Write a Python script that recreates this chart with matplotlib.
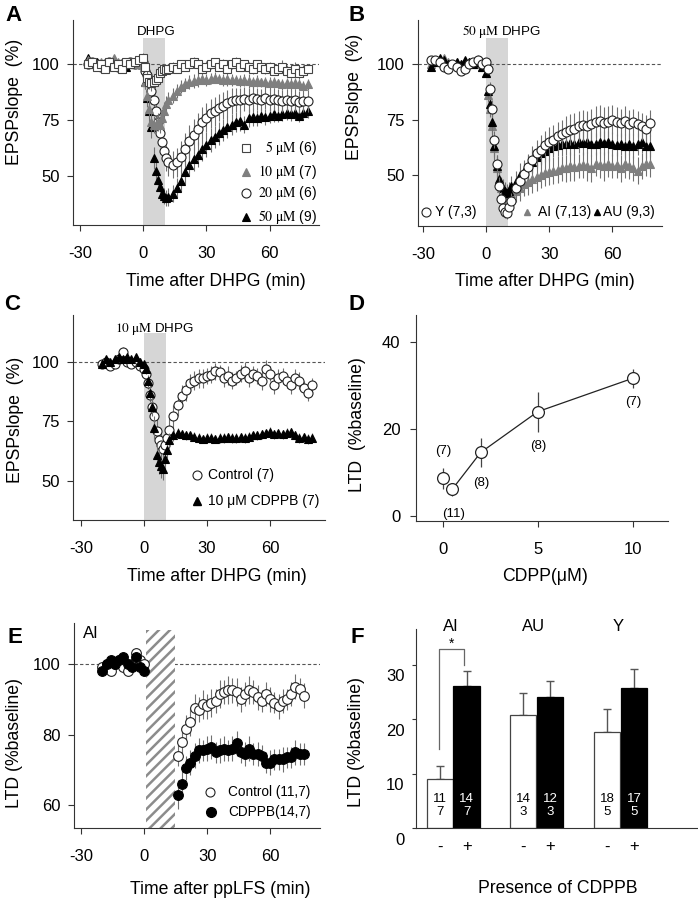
import numpy as np
import matplotlib
matplotlib.use('Agg')
import matplotlib.pyplot as plt
from matplotlib.patches import Rectangle
from matplotlib.transforms import ScaledTranslation

plt.rcParams['font.family'] = ['Liberation Sans', 'DejaVu Sans']
plt.rcParams['mathtext.fontset'] = 'stix'
plt.rcParams['axes.unicode_minus'] = False
plt.rcParams['hatch.color'] = '#8c8c8c'
plt.rcParams['hatch.linewidth'] = 1.8

# ---------------- data ----------------
# sampling times (min): 2-min bins in baseline / recovery, 1-min bins around the drug
t_A = np.concatenate([np.arange(-26, 1, 2), np.arange(1, 13), np.arange(14, 79, 2)])
t_C = np.concatenate([np.arange(-20, 1, 2), np.arange(1, 13), np.arange(14, 81, 2)])
t_E = np.concatenate([np.arange(-20, 1, 2), np.arange(16, 77, 2)])

# panel A: DHPG dose response
a_5uM = [100, 101, 99, 100, 98, 101, 99, 100, 98, 101, 100, 101, 102, 103,
         99, 94, 92, 91.5, 92, 93, 94, 96, 97, 98, 97.5, 98,
         99, 98, 100, 99, 100, 101, 100, 98, 99, 100, 101, 99, 100, 98, 100, 101, 99,
         100, 99, 98, 100, 99, 98, 99, 97, 98, 99, 97, 96, 98, 96, 97, 98]
a_5uM_err = [1.5, 1, 2, 1.5, 1, 2, 1.5, 1, 2, 1.5, 1, 1.5, 2, 2,
             2, 3, 3, 3.5, 3, 2.5, 2.5, 2, 2, 2, 2, 2,
             2, 2, 1.5, 2, 2, 2.5, 2, 2, 2.5, 2, 2, 2, 2.5, 2, 2, 2.5, 2,
             2, 2, 2.5, 2, 2, 2.5, 2, 2, 2.5, 3, 2.5, 2, 3, 2.5, 2.5, 2]
a_10uM = [102, 101, 100, 101, 100, 100, 103, 101, 100, 100, 101, 100, 101, 100,
          92, 86, 80, 74, 73, 73, 74, 73, 76, 79, 82, 84,
          86, 88, 90, 91, 92, 92.5, 93, 93.5, 93, 93.5, 94, 93.5, 93, 93.5, 93, 93, 92.5,
          93, 92.5, 92, 92.5, 92, 92, 91.5, 92, 91.5, 91, 91.5, 91, 91.5, 91, 90.5, 91]
a_10uM_err = [1, 1, 1.5, 1, 1, 1.5, 1, 1, 1.5, 1, 1, 1, 1, 1,
              3, 3, 4, 4, 4, 4, 4, 4, 4, 4, 4, 3.5,
              3.5, 3, 3, 3, 3, 3, 3, 2.5, 2.5, 2.5, 2.5, 2, 2.5, 3, 2.5, 2, 2.5,
              2.5, 3, 2.5, 2.5, 2, 2.5, 3, 2.5, 2, 2.5, 2.5, 3, 2.5, 2.5, 2, 2.5]
a_20uM = [100, 101, 100, 99, 100, 101, 100, 99, 100, 100, 101, 100, 100, 101,
          97, 95, 92, 88, 84, 79, 74, 69, 65, 61, 58, 56,
          55, 56, 58.5, 62, 65.5, 68.5, 71, 74, 76, 78, 79, 80.5, 81.5, 82.5, 83.5, 84, 84,
          84.5, 84, 85, 84.5, 84, 85, 84, 84.5, 84, 83.5, 84, 83.5, 84, 83, 83.5, 83.5]
a_20uM_err = [1, 1.5, 1, 1, 1.5, 1, 1, 1.5, 1, 1, 1.5, 1, 1, 1.5,
              3, 4, 5, 6, 6, 6.5, 6.5, 6, 6, 6, 6, 6,
              6, 6.5, 7, 7, 7.5, 7, 7, 7, 6.5, 6.5, 6.5, 6, 6, 6, 6, 5.5, 5.5,
              5.5, 5.5, 5.5, 5, 5, 5, 5, 5, 5, 5, 5, 5, 5, 5, 5, 5]
a_50uM = [103, 100, 101, 100, 99, 100, 101, 100, 100, 99, 100, 100, 101, 100,
          92, 85, 79, 72, 58, 52, 48, 45, 42, 41, 40, 40.5,
          42, 44.5, 47.5, 51.5, 55, 57.5, 59.5, 62, 64, 66, 67.5, 69, 70.5, 72, 73, 74, 74.5,
          73, 76, 76.5, 76, 77, 76.5, 77, 77.5, 77, 77.5, 78, 77.5, 78, 77, 78, 79]
a_50uM_err = [1, 1.5, 1, 1, 1.5, 1, 1, 1.5, 1, 1, 1.5, 1, 1, 1.5,
              3, 4, 5, 5, 5, 4, 4, 3.5, 3.5, 3.5, 3.5, 4,
              4, 4.5, 5, 5, 5, 5.5, 5.5, 5.5, 5.5, 5.5, 5, 5, 5, 5, 4.5, 4.5, 4.5,
              4, 4, 4, 3.5, 3.5, 3.5, 3.5, 3.5, 3, 3, 3, 3, 3, 3, 3, 3]
a_labels = ['5', '10', '20', '50']
a_n = [6, 7, 6, 9]

# panel B: 50 uM DHPG by age group
b_Y = [102, 102, 101, 99, 98, 100, 99, 97, 98, 100, 101, 102, 100, 101,
       98, 89, 80, 66, 55, 45, 39, 35, 33.5, 33, 35.5, 38.5,
       44, 47.5, 50.5, 53.5, 57, 60, 61.5, 63.5, 65, 66, 67.5, 68.5, 69.5, 70.5, 71, 72, 72.5,
       72, 73, 74, 74.5, 73.5, 74, 75, 74, 73.5, 74.5, 73, 74, 73, 72, 71, 73.5]
b_Y_err = [1.5, 1, 1.5, 2, 1.5, 1, 1.5, 2, 1.5, 1, 1.5, 2, 1.5, 1.5,
           2, 3, 4, 4, 4, 4, 3.5, 3.5, 3, 3, 3, 3.5,
           4, 4.5, 5, 5.5, 6, 6, 6.5, 6.5, 6.5, 6.5, 6.5, 6.5, 7, 7, 7, 7, 7,
           7, 7, 7, 7, 7, 7, 6.5, 6.5, 6.5, 6.5, 6.5, 6, 6, 6, 6, 6]
b_AI = [100, 101, 102, 103, 101, 100, 101, 100, 101, 101, 100, 100, 99, 96,
        86, 80, 72, 62, 53, 47, 44, 42, 41, 40, 41, 42,
        43, 44, 46, 47, 48, 49, 50, 51, 51.5, 52, 52.5, 53, 53, 54, 53.5, 54, 54.5,
        54, 53, 55, 54.5, 54, 55, 54, 54.5, 53, 55, 54, 53, 52, 54, 55, 55]
b_AI_err = [1, 1.5, 1, 1, 1.5, 1, 1, 1.5, 1, 1, 1.5, 1, 1, 1.5,
            3, 4, 5, 5, 5, 4.5, 4.5, 4.5, 4.5, 4.5, 4.5, 5,
            5, 5.5, 5.5, 6, 6, 6, 6, 6, 6, 6, 6, 5.5, 6, 6.5, 6, 5.5, 6,
            6.5, 6, 5.5, 6, 6.5, 6, 5.5, 6, 6, 6.5, 6, 5.5, 6, 6, 5.5, 6]
b_AU = [99, 101, 103, 102, 100, 100, 101, 100, 102, 101, 100, 101, 99, 96,
        88, 82, 74, 63, 54, 48, 45, 44, 43, 42, 43, 45,
        47, 50, 52, 54, 56, 58, 60, 61, 62, 63, 63.5, 64, 64, 64.5, 64, 65, 64.5,
        65, 64, 64, 65, 64.5, 65, 64, 63.5, 64, 63, 64, 63, 64, 65, 63, 63]
b_AU_err = [1, 1.5, 1, 1, 1.5, 1, 1, 1.5, 1, 1, 1.5, 1, 1, 1.5,
            3, 4, 5, 5, 5, 4.5, 4, 4, 4, 4, 4, 4.5,
            5, 5.5, 5, 5.5, 5, 5, 5.5, 5, 5.5, 5, 5, 5.5, 5, 5.5, 5, 5, 5.5,
            5, 5.5, 5, 5, 5.5, 5, 5.5, 5, 5, 5.5, 5, 5.5, 5, 5, 5.5, 5]

# panel C: 10 uM DHPG +/- CDPPB
c_ctrl = [99, 100, 98, 99, 101, 104, 100, 99, 100, 98, 97,
          95, 91, 86, 81, 77, 71, 67, 65, 63.5, 65, 68, 71.5,
          77, 82, 85.5, 88, 91, 92, 93, 93, 94, 94.5, 96, 95.5, 93, 94, 92, 93, 95,
          96, 93, 95, 94, 92, 97, 95, 90, 93, 94, 92, 90, 93, 92, 89, 87, 90]
c_ctrl_err = [1, 1.5, 1, 1.5, 1, 2, 1, 1.5, 1, 1.5, 1,
              2, 2.5, 3, 4, 5, 5, 5, 5, 5, 5, 5, 5,
              5, 5, 4.5, 4.5, 4, 4, 4, 4, 3.5, 3.5, 3.5, 3, 3.5, 4, 3.5, 3, 3.5,
              4, 3.5, 3, 3.5, 4, 3.5, 3, 3.5, 4, 3.5, 3, 3.5, 4, 3.5, 3, 3.5, 3]
c_cdppb = [99, 101, 100, 101, 102, 101, 102, 101, 102, 100, 99,
           97, 92, 87, 81, 72, 61, 58, 56, 55, 59, 63, 67,
           69, 70, 69.5, 69, 69, 68.5, 68, 67.5, 68, 68, 67.5, 68, 68, 68.5, 68, 68, 68.5,
           68, 68.5, 69, 69, 69.5, 70, 70.5, 69.5, 70, 69.5, 70, 70.5, 69, 68, 68.5, 67.5, 68]
c_cdppb_err = [1, 1.5, 1, 1.5, 1, 1.5, 1, 1.5, 1, 1.5, 1,
               2, 2.5, 3, 4, 5, 5, 5, 5, 4.5, 4, 3.5, 3,
               2.5, 2, 2, 2, 1.5, 2, 2, 1.5, 2, 2, 1.5, 2, 2, 1.5, 2, 2, 1.5,
               2, 2, 1.5, 2, 2, 1.5, 2, 2, 1.5, 2, 2, 1.5, 2, 2, 1.5, 2, 2]

# panel D: CDPPB concentration vs LTD
d_conc = [0, 0.5, 2, 5, 10]
d_ltd = [8.6, 6.1, 14.6, 24.0, 31.7]
d_err = [2.5, 1.5, 3.3, 4.6, 2.2]
d_n = ['(7)', '(11)', '(8)', '(8)', '(7)']
d_label_y = [14.9, 0.4, 7.6, 16.1, 26.3]

# panel E: ppLFS in AI
e_ctrl = [99, 100, 98, 100, 101, 99, 98, 100, 103, 101, 100,
          74, 78, 81.5, 83.5, 87.5, 87, 88.5, 88, 89, 89.5, 91.5, 92, 92.5, 92.5, 92, 90,
          91.5, 92.5, 92, 90.5, 89.5, 91.5, 90, 89, 88, 89.5, 90, 91.5, 93.5, 93, 91]
e_ctrl_err = [1.5, 1, 1.5, 1.5, 1, 1.5, 1.5, 1, 1.5, 1.5, 1,
              3, 4, 4, 4, 4, 3.5, 4, 3.5, 4, 3.5, 4, 3.5, 4, 3.5, 4, 3.5,
              3.5, 4, 3.5, 3.5, 3, 3.5, 3.5, 3, 3.5, 3.5, 3, 3.5, 3.5, 3, 3.5]
e_cdppb = [98, 100, 101, 100, 101, 102, 100, 99, 102, 99, 98,
           63, 66, 70.5, 72, 74, 75.5, 75.5, 76, 76.5, 75, 75.5, 76, 75.5, 76, 77.5, 75,
           74.5, 76, 74.5, 74.5, 74, 72, 72, 73, 73, 73, 73.5, 73.5, 75, 74.5, 74.5]
e_cdppb_err = [1.5, 1, 1.5, 1.5, 1, 1.5, 1.5, 1, 1.5, 1.5, 1,
               4, 4, 3.5, 3.5, 3.5, 3.5, 3, 3.5, 3.5, 3, 3.5, 3.5, 3, 3.5, 3.5, 3,
               3.5, 3.5, 3, 3.5, 3, 3, 3.5, 3, 3, 3.5, 3, 3, 3.5, 3, 3]

# panel F: LTD with / without CDPPB per group
f_groups = ['AI', 'AU', 'Y']
f_minus = [9.0, 20.8, 17.7]
f_minus_err = [2.5, 4.0, 4.2]
f_plus = [26.1, 24.0, 25.8]
f_plus_err = [2.8, 3.1, 3.5]
f_minus_n = ['11\n7', '14\n3', '18\n5']
f_plus_n = ['14\n7', '12\n3', '17\n5']

# ---------------- figure ----------------
W, H = 698, 900
fig = plt.figure(figsize=(W / 100, H / 100), dpi=100)

SP = '#333333'
EC = '#707070'
GREY = '#7f7f7f'


def px_axes(l, t, r, b):
    return fig.add_axes([l / W, 1 - b / H, (r - l) / W, (b - t) / H])


def style(ax, xlim, ylim, xticks, yticks, ypad=5.5):
    ax.set_xlim(*xlim)
    ax.set_ylim(*ylim)
    for s in ['top', 'right']:
        ax.spines[s].set_visible(False)
    for s in ['left', 'bottom']:
        ax.spines[s].set_color(SP)
        ax.spines[s].set_linewidth(0.8)
    ax.set_xticks(xticks)
    ax.set_yticks(yticks)
    ax.tick_params(axis='x', direction='out', length=4, width=0.8, color=SP,
                   labelsize=12, pad=11)
    ax.tick_params(axis='y', direction='out', length=4, width=0.8, color=SP,
                   labelsize=12, pad=ypad)


def series(ax, t, v, e, marker, face, edge, ms, z):
    ax.errorbar(t, v, yerr=e, fmt='none', ecolor=EC, elinewidth=0.8, zorder=z)
    ax.plot(t, v, linestyle='none', marker=marker, markerfacecolor=face,
            markeredgecolor=edge, markeredgewidth=0.8, markersize=ms, zorder=z + 0.5)


def baseline(ax):
    ax.axhline(100, color='#555555', linestyle=(0, (3, 2)), linewidth=0.8, zorder=1)


def labels(ax, xl, xpos, yl, ypos):
    ax.text(xpos[0], xpos[1], xl, transform=ax.transAxes, ha='center', va='center', fontsize=12.7)
    ax.text(ypos[0], ypos[1], yl, transform=ax.transAxes, ha='center', va='center',
            rotation=90, fontsize=12.7)


# ---- A ----
axA = px_axes(73, 20, 319, 225)
style(axA, (-33.2, 83.4), (27.9, 119.9), [-30, 0, 30, 60], [50, 75, 100])
axA.add_patch(Rectangle((0, 27.9), 10.5, 111.7 - 27.9, color='#d6d6d6', lw=0, zorder=0.5))
baseline(axA)
series(axA, t_A, a_50uM, a_50uM_err, '^', 'black', 'black', 5.5, 2)
series(axA, t_A, a_20uM, a_20uM_err, 'o', 'white', '#222222', 6.5, 3)
series(axA, t_A, a_10uM, a_10uM_err, '^', GREY, GREY, 5.5, 4)
series(axA, t_A, a_5uM, a_5uM_err, 's', 'white', '#444444', 6, 5)
axA.text(6.2, 114.6, 'DHPG', ha='center', va='center', fontsize=9.6)
leg_y = [62.3, 51.8, 42.1, 31.6]
leg_style = [('s', 'white', '#444444', 6), ('^', GREY, GREY, 5.5),
             ('o', 'white', '#222222', 6.5), ('^', 'black', 'black', 5.5)]
for lab, n, yy, (m, fc, ec, ms) in zip(a_labels, a_n, leg_y, leg_style):
    axA.plot([48.8], [yy], marker=m, markerfacecolor=fc, markeredgecolor=ec,
             markeredgewidth=0.8, markersize=ms, linestyle='none', zorder=6)
    axA.text(82.3, yy, r'$\mathrm{%s\ μM}$ (%d)' % (lab, n), ha='right', va='center', fontsize=10)
labels(axA, 'Time after DHPG (min)', (0.58, -0.278), 'EPSPslope  (%)', (-0.236, 0.6))

# ---- B ----
axB = px_axes(418, 20, 661.7, 226)
style(axB, (-32.3, 83.4), (27.0, 120.0), [-30, 0, 30, 60], [50, 75, 100])
axB.add_patch(Rectangle((0, 27.0), 10.5, 111.7 - 27.0, color='#d6d6d6', lw=0, zorder=0.5))
baseline(axB)
series(axB, t_A, b_AI, b_AI_err, '^', GREY, GREY, 5.5, 2)
series(axB, t_A, b_AU, b_AU_err, '^', 'black', 'black', 5.5, 3)
series(axB, t_A, b_Y, b_Y_err, 'o', 'white', '#222222', 6.5, 4)
axB.text(7.4, 114.7, r'$\mathrm{50\ μM}$ DHPG', ha='center', va='center', fontsize=9.6)
axB.plot([-28.6], [33.4], marker='o', markerfacecolor='white', markeredgecolor='#222222',
         markeredgewidth=0.8, markersize=6.5, zorder=6)
axB.text(-24.4, 33.4, 'Y (7,3)', ha='left', va='center', fontsize=10)
axB.plot([19.6], [33.4], marker='^', color=GREY, markersize=5, zorder=6)
axB.text(24.6, 33.4, 'AI (7,13)', ha='left', va='center', fontsize=10)
axB.plot([52.5], [33.4], marker='^', color='black', markersize=5, zorder=6)
axB.text(55.6, 33.4, 'AU (9,3)', ha='left', va='center', fontsize=10)
labels(axB, 'Time after DHPG (min)', (0.521, -0.27), 'EPSPslope  (%)', (-0.259, 0.628))

# ---- C ----
axC = px_axes(73, 315, 325, 520)
style(axC, (-33.8, 86.2), (33.5, 119.6), [-30, 0, 30, 60], [50, 75, 100])
axC.add_patch(Rectangle((0, 33.5), 10.5, 111.9 - 33.5, color='#d6d6d6', lw=0, zorder=0.5))
baseline(axC)
series(axC, t_C, c_ctrl, c_ctrl_err, 'o', 'white', '#222222', 6.5, 2)
series(axC, t_C, c_cdppb, c_cdppb_err, '^', 'black', 'black', 5.5, 3)
axC.text(5.2, 113.6, r'$\mathrm{10\ μM}$ DHPG', ha='center', va='center', fontsize=9.6)
axC.plot([25.1], [52.4], marker='o', markerfacecolor='white', markeredgecolor='#222222',
         markeredgewidth=0.8, markersize=6.5, zorder=6)
axC.text(30.6, 52.4, 'Control (7)', ha='left', va='center', fontsize=10)
axC.plot([25.1], [41.6], marker='^', color='black', markersize=5.5, zorder=6)
axC.text(30.6, 41.6, '10 μM CDPPB (7)', ha='left', va='center', fontsize=10)
labels(axC, 'Time after DHPG (min)', (0.57, -0.277), 'EPSPslope  (%)', (-0.23, 0.488))

# ---- D ----
axD = px_axes(415.7, 315, 668, 521)
style(axD, (-1.42, 11.86), (-1.2, 46.3), [0, 5, 10], [0, 20, 40], ypad=7)
axD.errorbar(d_conc, d_ltd, yerr=d_err, fmt='none', ecolor='#444444', elinewidth=0.9, zorder=2)
axD.plot(d_conc[1:], d_ltd[1:], color='#222222', linewidth=0.9, zorder=2)
axD.plot(d_conc, d_ltd, linestyle='none', marker='o', markerfacecolor='white',
         markeredgecolor='#222222', markeredgewidth=0.9, markersize=8.5, zorder=3)
for xx, yy, s in zip(d_conc, d_label_y, d_n):
    axD.text(xx + (0.06 if s == '(11)' else 0.03), yy, s, ha='center', va='center', fontsize=9.5)
labels(axD, 'CDPP(μM)', (0.512, -0.27), 'LTD  (%baseline)', (-0.231, 0.466))

# ---- E ----
axE = px_axes(74, 623.3, 320, 827.7)
style(axE, (-33.5, 83.7), (53.6, 111.5), [-30, 0, 30, 60], [60, 80, 100])
baseline(axE)
axE.add_patch(Rectangle((1, 53.6), 13.5, 109.5 - 53.6, facecolor='white', edgecolor='#8c8c8c',
                        hatch='///', lw=0, zorder=1.5))
series(axE, t_E, e_ctrl, e_ctrl_err, 'o', 'white', '#222222', 7, 2)
series(axE, t_E, e_cdppb, e_cdppb_err, 'o', 'black', 'black', 7, 3)
axE.text(-29, 108.7, 'AI', ha='left', va='center', fontsize=12)
axE.plot([31.3], [63.8], marker='o', markerfacecolor='white', markeredgecolor='#222222',
         markeredgewidth=0.8, markersize=6.5, zorder=6)
axE.text(40, 63.8, 'Control (11,7)', ha='left', va='center', fontsize=9.8)
axE.plot([31.6], [58.1], marker='o', color='black', markersize=7, zorder=6)
axE.text(40, 58.1, 'CDPPB(14,7)', ha='left', va='center', fontsize=9.8)
labels(axE, 'Time after ppLFS (min)', (0.593, -0.304), 'LTD (%baseline)', (-0.24, 0.412))

# ---- F ----
axF = px_axes(415.7, 629.3, 696.7, 828.3)
group_pos = np.array([0, 3.12, 6.27])
x_minus = group_pos - 0.5
x_plus = group_pos + 0.5
style(axF, (-1.41, 9.12), (0, 36.5), list(np.ravel(np.column_stack([x_minus, x_plus]))),
      [0, 10, 20, 30], ypad=5)
axF.set_xticklabels(['-', '+'] * 3)
axF.tick_params(axis='x', length=0, pad=8, labelsize=12)
axF.tick_params(axis='y', length=3)
for lab in axF.get_yticklabels():
    lab.set_transform(lab.get_transform() + ScaledTranslation(0, -7.5 / 72, fig.dpi_scale_trans))
axF.bar(x_minus, f_minus, width=0.96, color='white', edgecolor='#444444', linewidth=0.9, zorder=2)
axF.bar(x_plus, f_plus, width=1.0, color='black', edgecolor='black', linewidth=0.9, zorder=2)
axF.errorbar(x_minus, f_minus, yerr=[np.zeros(3), f_minus_err], fmt='none', ecolor='#555555',
             elinewidth=1, capsize=3, capthick=1, zorder=1)
axF.errorbar(x_plus, f_plus, yerr=[np.zeros(3), f_plus_err], fmt='none', ecolor='#555555',
             elinewidth=1, capsize=3, capthick=1, zorder=1)
for xx, s in zip(x_minus, f_minus_n):
    axF.text(xx, 4.2, s, ha='center', va='center', fontsize=9.5, color='black',
             linespacing=1.05, zorder=3)
for xx, s in zip(x_plus, f_plus_n):
    axF.text(xx, 4.2, s, ha='center', va='center', fontsize=9.5, color='white',
             linespacing=1.05, zorder=3)
for g, s in zip(group_pos, f_groups):
    axF.text(g - 0.1, 37.0, s, ha='center', va='center', fontsize=12)
axF.plot([-0.54, -0.54, 0.41, 0.41], [14.5, 32.8, 32.8, 30.0], color='#666666', linewidth=0.9)
axF.text(-0.06, 32.6, '*', ha='center', va='bottom', fontsize=10)
labels(axF, 'Presence of CDPPB', (0.507, -0.302), 'LTD (%baseline)', (-0.21, 0.435))

# panel letters
for s, (x, y) in zip('ABCDEF', [(13, 15.5), (357, 15.5), (12.5, 304.5),
                                 (357, 304.5), (15, 637.5), (357, 637.5)]):
    fig.text(x / W, 1 - y / H, s, ha='center', va='center', fontsize=16, fontweight='bold')

fig.savefig('out.png', dpi=100)
